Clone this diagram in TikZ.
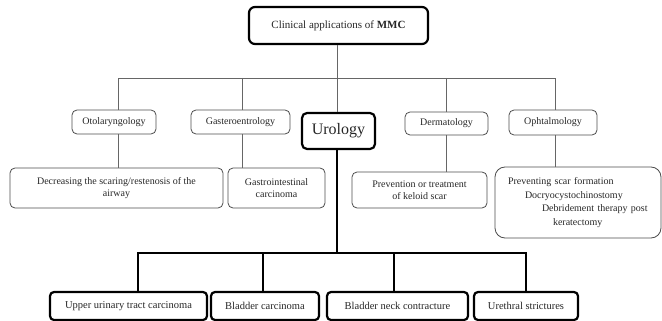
\documentclass[tikz,border=0pt]{standalone}
\usepackage{fontspec}
\setmainfont{Liberation Serif}
\begin{document}
\begin{tikzpicture}[x=1pt,y=-1pt,
  txt/.style={inner sep=0pt, align=center, text=black!85},
  topbox/.style={txt, draw=black, line width=2.2pt, rounded corners=6pt, font=\fontsize{11}{13}\selectfont},
  midbox/.style={txt, draw=black!70, line width=0.8pt, rounded corners=5pt, font=\fontsize{10}{12.5}\selectfont},
  urobox/.style={txt, draw=black, line width=2.2pt, rounded corners=5pt, font=\fontsize{16}{18}\selectfont},
  botbox/.style={txt, draw=black, line width=2.2pt, rounded corners=4pt, font=\fontsize{10.5}{12.5}\selectfont},
  thinln/.style={draw=black!60, line width=0.8pt},
  thickln/.style={draw=black, line width=1.8pt}]
\useasboundingbox (0,0) rectangle (662,321);

% top
\node[topbox, minimum width=179pt, minimum height=37pt] (top) at (338.5,25.5) {Clinical applications of \textbf{MMC}};

% first level
\node[midbox, minimum width=84pt, minimum height=24pt] (oto) at (114,122) {Otolaryngology};
\node[midbox, minimum width=99pt, minimum height=24pt] (gas) at (240.5,122) {Gasteroentrology};
\node[urobox, minimum width=73pt, minimum height=36pt] (uro) at (338.5,131) {Urology};
\node[midbox, minimum width=83pt, minimum height=23pt] (der) at (446.5,123.5) {Dermatology};
\node[midbox, minimum width=88pt, minimum height=25pt] (oph) at (553,122.5) {Ophtalmology};

% second level
\node[midbox, minimum width=213pt, minimum height=40pt] (dec) at (116.5,188) {Decreasing the scaring/restenosis of the\\airway};
\node[midbox, minimum width=97pt, minimum height=40pt] (gin) at (276.5,188) {Gastrointestinal\\carcinoma};
\node[midbox, minimum width=135pt, minimum height=36pt] (pre) at (419.5,190) {Prevention or treatment\\of keloid scar};
\node[midbox, rounded corners=10pt, minimum width=166pt, minimum height=71pt, text width=166pt, align=left,
      font=\fontsize{10}{13.7}\selectfont] (ophx) at (578,202.5)
  {\hspace*{13pt}Preventing scar formation\\
   \hspace*{30pt}Docryocystochinostomy\\
   \hspace*{47pt}Debridement therapy post\\
   \hspace*{58pt}keratectomy};

% urology children
\node[botbox, minimum width=157pt, minimum height=28pt] (upp) at (128.5,306) {Upper urinary tract carcinoma};
\node[botbox, minimum width=108pt, minimum height=28pt] (bla) at (265,306) {Bladder carcinoma};
\node[botbox, minimum width=141pt, minimum height=28pt] (nec) at (397.5,306) {Bladder neck contracture};
\node[botbox, minimum width=104pt, minimum height=28pt] (ure) at (526,306) {Urethral strictures};

% top tree connectors
\coordinate (b0) at (337,78);
\coordinate (b1) at (118,78);
\coordinate (b2) at (242,78);
\coordinate (b4) at (446,78);
\coordinate (b5) at (555,78);
\draw[thinln] (b0 |- top.south) -- (b0);
\draw[thinln] (b1 |- oto.north) -- (b1) -- (b5) -- (b5 |- oph.north);
\draw[thinln] (b2) -- (b2 |- gas.north);
\draw[thinln] (b0) -- (b0 |- uro.north);
\draw[thinln] (b4) -- (b4 |- der.north);
\draw[thinln] (b1 |- oto.south) -- (b1 |- dec.north);
\draw[thinln] (b2 |- gas.south) -- (b2 |- gin.north);
\draw[thinln] (b4 |- der.south) -- (b4 |- pre.north);
\draw[thinln] (b5 |- oph.south) -- (b5 |- ophx.north);

% urology connectors
\coordinate (u0) at (337,253);
\coordinate (u1) at (138,253);
\coordinate (u2) at (263,253);
\coordinate (u3) at (394,253);
\coordinate (u4) at (526,253);
\draw[thickln] (u0 |- uro.south) -- (u0);
\draw[thickln] (u1 |- upp.north) -- (u1) -- (u4) -- (u4 |- ure.north);
\draw[thickln] (u2) -- (u2 |- bla.north);
\draw[thickln] (u3) -- (u3 |- nec.north);
\end{tikzpicture}
\end{document}
